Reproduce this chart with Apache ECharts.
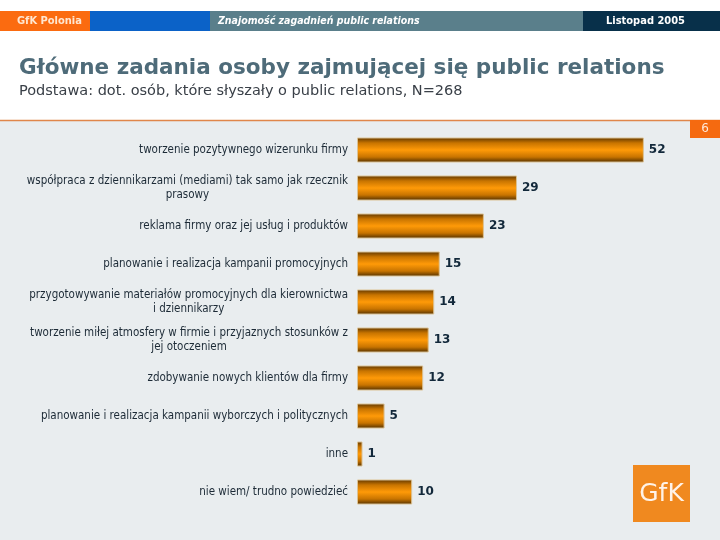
<!DOCTYPE html>
<html>
<head>
<meta charset="utf-8">
<script src="https://cdn.jsdelivr.net/npm/echarts@6/dist/echarts.min.js"></script>
<style>html,body{margin:0;padding:0;background:#fff}#c{width:720px;height:540px}</style>
</head>
<body>
<div id="c"></div>
<script>
const categories = [
  "tworzenie pozytywnego wizerunku firmy",
  "współpraca z dziennikarzami (mediami) tak samo jak rzecznik\nprasowy",
  "reklama firmy oraz jej usług i produktów",
  "planowanie i realizacja kampanii promocyjnych",
  "przygotowywanie materiałów promocyjnych dla kierownictwa\ni dziennikarzy",
  "tworzenie miłej atmosfery w firmie i przyjaznych stosunków z\njej otoczeniem",
  "zdobywanie nowych klientów dla firmy",
  "planowanie i realizacja kampanii wyborczych i politycznych",
  "inne",
  "nie wiem/ trudno powiedzieć"
];
const values = [52, 29, 23, 15, 14, 13, 12, 5, 1, 10];

const headerLeft = "GfK Polonia";
const headerMid = "Znajomość zagadnień public relations";
const headerRight = "Listopad 2005";
const titleText = "Główne zadania osoby zajmującej się public relations";
const subtitleText = "Podstawa: dot. osób, które słyszały o public relations, N=268";
const pageNo = "6";
const logoText = "GfK";

const chart = echarts.init(document.getElementById('c'), null, {renderer: 'canvas'});
const FONT = "DejaVu Sans";
const FONTC = "DejaVu Sans Condensed";

const barGradient = new echarts.graphic.LinearGradient(0, 0, 0, 1, [
  {offset: 0, color: '#5e3600'},
  {offset: 0.22, color: '#c87400'},
  {offset: 0.5, color: '#ff9a08'},
  {offset: 0.78, color: '#c87400'},
  {offset: 1, color: '#4e2e00'}
]);

chart.setOption({
  animation: false,
  backgroundColor: '#ffffff',
  graphic: [
    {type: 'rect', z: -10, shape: {x: 0, y: 120, width: 720, height: 420}, style: {fill: '#e9edef'}},
    {type: 'line', z: -9, shape: {x1: 0, y1: 120.5, x2: 720, y2: 120.5}, style: {stroke: '#e0864a', lineWidth: 1.5}},
    {type: 'rect', z: -8, shape: {x: 690, y: 120, width: 30, height: 18}, style: {fill: '#f56a10'}},
    {type: 'text', z: -7, style: {x: 705, y: 129, text: pageNo, fill: '#ffe8d8', font: '12px ' + FONT, align: 'center', verticalAlign: 'middle'}},
    // header bar
    {type: 'rect', z: -8, shape: {x: 0, y: 11, width: 90, height: 20}, style: {fill: '#fb6b10'}},
    {type: 'rect', z: -8, shape: {x: 90, y: 11, width: 120, height: 20}, style: {fill: '#0b62c8'}},
    {type: 'rect', z: -8, shape: {x: 210, y: 11, width: 373, height: 20}, style: {fill: '#5a7f8b'}},
    {type: 'rect', z: -8, shape: {x: 583, y: 11, width: 137, height: 20}, style: {fill: '#08304a'}},
    {type: 'text', z: -7, style: {x: 17, y: 21, text: headerLeft, fill: '#ffe6d0', font: 'bold 11px "' + FONTC + '"', verticalAlign: 'middle'}},
    {type: 'text', z: -7, style: {x: 218, y: 21, text: headerMid, fill: '#ffffff', font: 'italic bold 10.5px "' + FONTC + '"', verticalAlign: 'middle'}},
    {type: 'text', z: -7, style: {x: 606, y: 21, text: headerRight, fill: '#ffffff', font: 'bold 11px "' + FONTC + '"', verticalAlign: 'middle'}},
    // logo
    {type: 'rect', z: -8, shape: {x: 633, y: 465, width: 57, height: 57}, style: {fill: '#f0891f'}},
    {type: 'text', z: -7, style: {x: 661.5, y: 494, text: logoText, fill: '#fff3e8', font: '25px ' + FONT, align: 'center', verticalAlign: 'middle'}}
  ],
  title: {
    text: titleText,
    subtext: subtitleText,
    left: 14,
    top: 52,
    itemGap: 5,
    textStyle: {fontFamily: FONT, fontWeight: 'bold', fontSize: 21.5, color: '#4e6b79'},
    subtextStyle: {fontFamily: FONT, fontSize: 14.5, color: '#3a4048'}
  },
  grid: {left: 357, right: 32, top: 131, height: 380, containLabel: false},
  xAxis: {
    type: 'value', min: 0, max: 60, show: false
  },
  yAxis: {
    type: 'category',
    inverse: true,
    data: categories,
    axisLine: {show: false},
    axisTick: {show: false},
    splitLine: {show: false},
    axisLabel: {
      margin: 9,
      color: '#1c2a36',
      fontFamily: FONTC,
      fontSize: 11.5,
      lineHeight: 14,
      formatter: function (v) {
        return v.split('\n').map(function (s) { return '{a|' + s + '}'; }).join('\n');
      },
      rich: {a: {align: 'center', fontFamily: FONTC, fontSize: 11.5, lineHeight: 14, color: '#1c2a36'}}
    }
  },
  series: [{
    type: 'bar',
    data: values,
    barWidth: 25,
    itemStyle: {color: barGradient, borderColor: '#dcc293', borderWidth: 1},
    label: {
      show: true,
      position: 'right',
      distance: 5,
      color: '#12283a',
      fontFamily: FONT,
      fontWeight: 'bold',
      fontSize: 12
    }
  }]
});
</script>
</body>
</html>
